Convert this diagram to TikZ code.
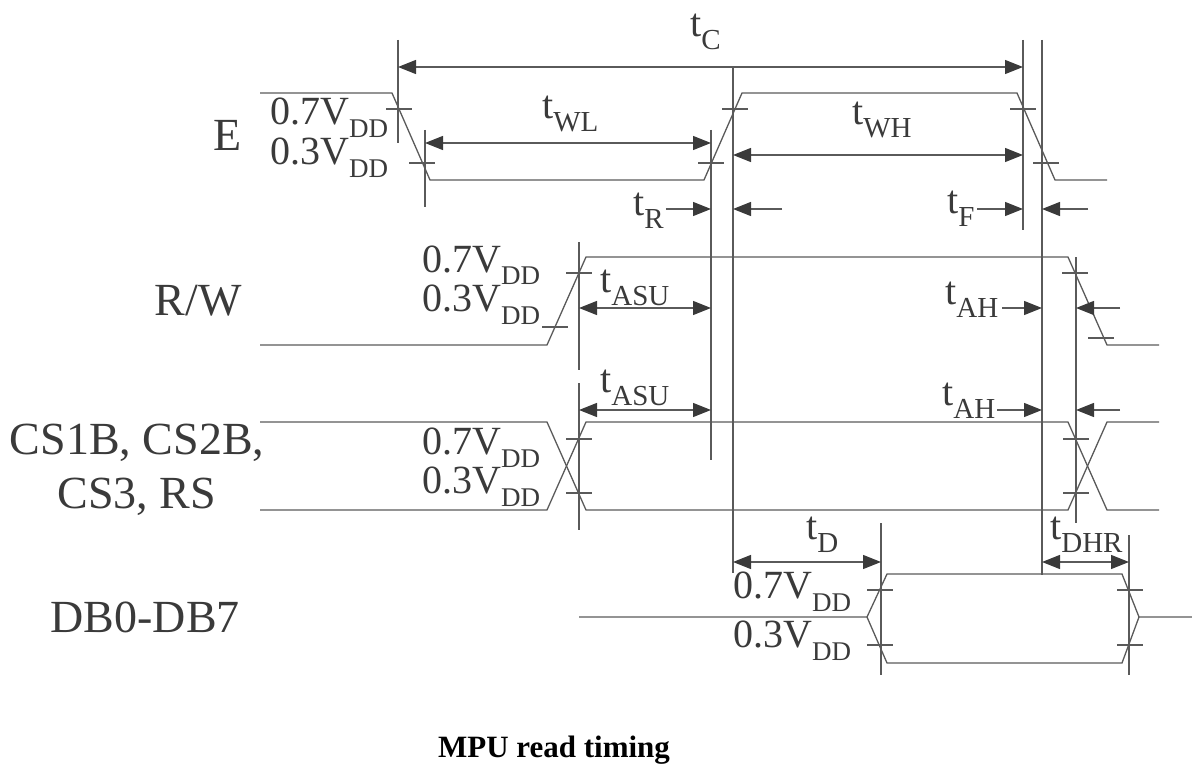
\documentclass[tikz,border=0pt]{standalone}
\usepackage{fontspec}
\setmainfont{Liberation Serif}
\usetikzlibrary{arrows.meta}
\definecolor{linegray}{HTML}{5A5A5A}
\definecolor{textgray}{HTML}{3A3A3A}
\newcommand{\tsub}[1]{{\fontsize{40}{40}\selectfont t}\raisebox{-13pt}{\fontsize{29}{29}\selectfont #1}}
\newcommand{\vdd}[1]{{\fontsize{40}{40}\selectfont 0.#1V}\raisebox{-13pt}{\fontsize{27}{27}\selectfont DD}}
\tikzstyle{wave} = [draw=linegray, line width=1.3pt]
\tikzstyle{guide} = [draw=linegray, line width=1.3pt]
\tikzstyle{tick} = [draw=linegray, line width=1.1pt]
\tikzstyle{arrow} = [draw=linegray, line width=1.3pt, -{Triangle[length=18pt,width=14pt,color=textgray]}]
\tikzstyle{twoway} = [draw=linegray, line width=1.3pt, {Triangle[length=18pt,width=14pt,color=textgray]}-{Triangle[length=18pt,width=14pt,color=textgray]}]
\tikzstyle{signame} = [inner sep=0, text=textgray, font=\fontsize{46}{54}\selectfont]
\tikzstyle{lab} = [inner sep=0, anchor=base west, text=textgray]

\begin{document}
\begin{tikzpicture}[x=1pt, y=-1pt]
		\useasboundingbox (0,0) rectangle (1192,765);

		% signal names
		\node (e) [signame, anchor=base east] at (242,151) {E};
		\node (rw) [signame, anchor=base east] at (242,315) {R/W};
		\node (cs1) [signame, anchor=base] at (137,454) {CS1B, CS2B,};
		\node (cs2) [signame, anchor=base] at (137,508) {CS3, RS};
		\node (db) [signame, anchor=base east] at (240,632) {DB0-DB7};

		% waveforms
		\draw [wave] (260,93) -- (392,93) -- (430,180) -- (704,180) -- (742,93) -- (1017,93) -- (1055,180) -- (1107,180);
		\draw [wave] (260,345) -- (547,345) -- (586,257) -- (1068,257) -- (1107,345) -- (1159,345);
		\draw [wave] (260,422) -- (547,422) -- (586,510) -- (1068,510) -- (1107,422) -- (1159,422);
		\draw [wave] (260,510) -- (547,510) -- (586,422) -- (1068,422) -- (1107,510) -- (1159,510);
		\draw [wave] (579,617) -- (867,617) -- (887,574) -- (1122,574) -- (1139,617) -- (1192,617);
		\draw [wave] (867,617) -- (887,663) -- (1122,663) -- (1139,617);

		% threshold marks
		\draw [tick] (386,109) -- +(26,0) (409,163) -- +(26,0) (722,109) -- +(26,0) (698,163) -- +(26,0) (1010,109) -- +(26,0) (1033,163) -- +(26,0);
		\draw [tick] (566,273) -- +(26,0) (542,327) -- +(26,0) (1062,273) -- +(26,0) (1088,338) -- +(26,0);
		\draw [tick] (566,439) -- +(26,0) (566,493) -- +(26,0) (1063,439) -- +(26,0) (1063,493) -- +(26,0);
		\draw [tick] (867,590) -- +(26,0) (867,645) -- +(26,0) (1117,590) -- +(26,0) (1117,645) -- +(26,0);

		% guide lines
		\draw [guide] (398,40) -- (398,143);
		\draw [guide] (425,130) -- (425,207);
		\draw [guide] (711,130) -- (711,460);
		\draw [guide] (733,67) -- (733,573);
		\draw [guide] (1023,40) -- (1023,230);
		\draw [guide] (1042,40) -- (1042,575);
		\draw [guide] (579,242) -- (579,370);
		\draw [guide] (579,383) -- (579,530);
		\draw [guide] (1076,257) -- (1076,523);
		\draw [guide] (881,523) -- (881,675);
		\draw [guide] (1129,535) -- (1129,675);

		% voltage levels
		\node (e7) [lab] at (270,125) {\vdd{7}};
		\node (e3) [lab] at (270,165) {\vdd{3}};
		\node (rw7) [lab] at (422,272) {\vdd{7}};
		\node (rw3) [lab] at (422,311) {\vdd{3}};
		\node (cs7) [lab] at (422,454) {\vdd{7}};
		\node (cs3) [lab] at (422,493) {\vdd{3}};
		\node (db7) [lab] at (733,598) {\vdd{7}};
		\node (db3) [lab] at (733,647) {\vdd{3}};

		% timing parameters
		\node (tc) [lab] at (690,37) {\tsub{C}};
		\node (twl) [lab] at (542,119) {\tsub{WL}};
		\node (twh) [lab] at (852,125) {\tsub{WH}};
		\node (tr) [lab] at (633,215) {\tsub{R}};
		\node (tf) [lab] at (947,214) {\tsub{F}};
		\node (tasu1) [lab] at (600,292) {\tsub{ASU}};
		\node (tah1) [lab] at (945,304) {\tsub{AH}};
		\node (tasu2) [lab] at (600,392) {\tsub{ASU}};
		\node (tah2) [lab] at (942,405) {\tsub{AH}};
		\node (td) [lab] at (806,539) {\tsub{D}};
		\node (tdhr) [lab] at (1050,539) {\tsub{DHR}};

		\draw [twoway] (398,67) -- (1023,67);
		\draw [twoway] (425,143) -- (711,143);
		\draw [twoway] (733,155) -- (1023,155);
		\draw [arrow] (tr.base east) ++(2,-6) -- (711,209);
		\draw [arrow] (782,209) -- (733,209);
		\draw [arrow] (977,209) -- (1023,209);
		\draw [arrow] (1088,209) -- (1042,209);
		\draw [twoway] (579,308) -- (711,308);
		\draw [arrow] (1002,308) -- (1042,308);
		\draw [arrow] (1120,308) -- (1076,308);
		\draw [twoway] (579,410) -- (711,410);
		\draw [arrow] (997,410) -- (1042,410);
		\draw [arrow] (1120,410) -- (1076,410);
		\draw [twoway] (733,562) -- (881,562);
		\draw [twoway] (1042,562) -- (1129,562);

		% caption
		\node (cap) [anchor=base, inner sep=0, font=\fontsize{31}{31}\selectfont\bfseries] at (554,757) {MPU read timing};
\end{tikzpicture}
\end{document}
